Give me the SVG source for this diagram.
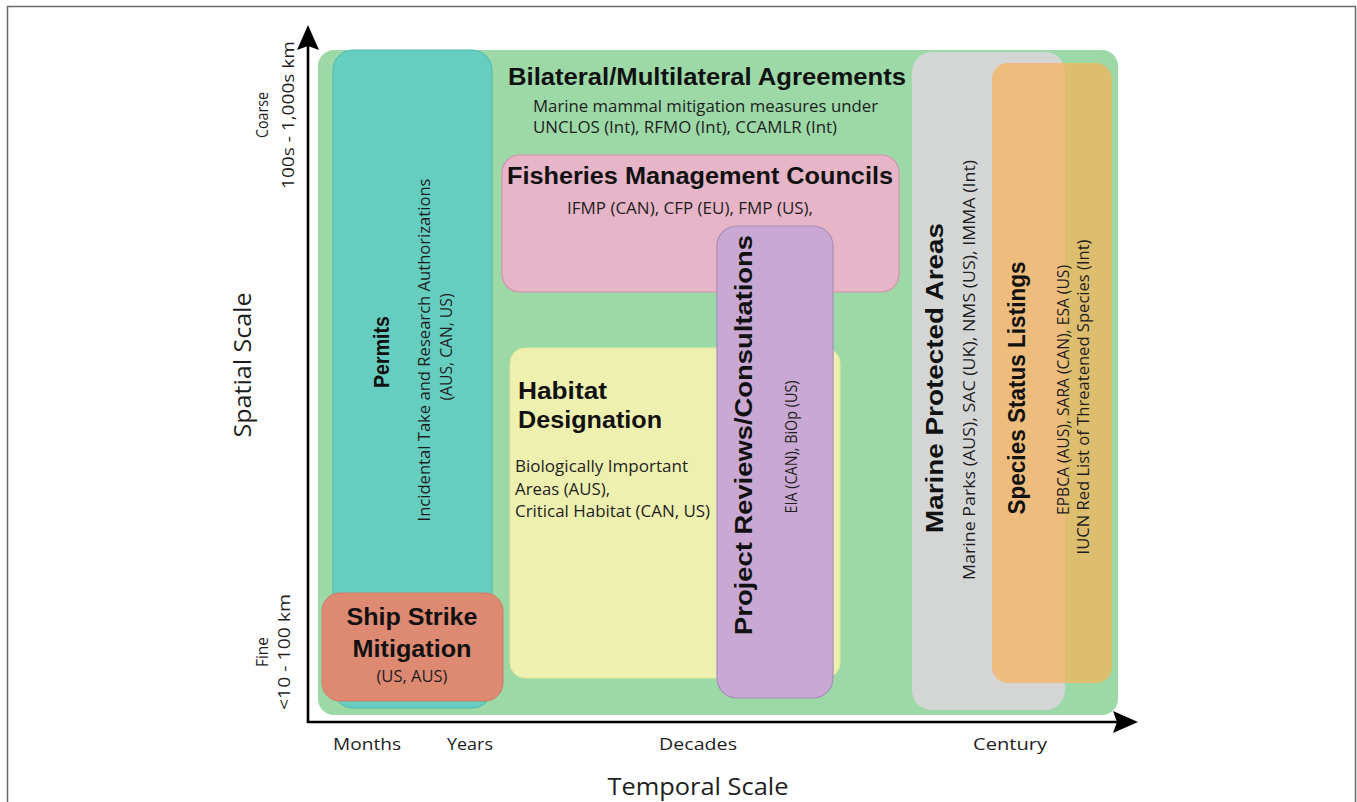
<svg xmlns="http://www.w3.org/2000/svg" width="1357" height="802" viewBox="0 0 1357 802">
<style>
.t{font-family:"Liberation Sans",Arial,sans-serif;font-weight:bold;fill:#111;}
.s{font-family:"Open Sans","Liberation Sans",sans-serif;fill:#1e1e1e;}
.ax{font-family:"Open Sans","Liberation Sans",sans-serif;fill:#1e1e1e;}
.axis{stroke:#000;stroke-width:2.6;fill:none;}
</style>
<defs>
<marker id="arr" markerUnits="userSpaceOnUse" markerWidth="26" markerHeight="24" viewBox="0 0 26 24" refX="10" refY="12" orient="auto">
<path d="M0,1 L25,12 L0,23 L4,12 Z" fill="#000"/>
</marker>
</defs>
<rect x="7.5" y="6.5" width="1348" height="800" fill="#fff" stroke="#6a6a6a" stroke-width="1.5"/>

<g id="bilateral">
<rect x="318" y="50" width="800" height="665" rx="16" fill="#9cd9a7"/>
<text class="t" x="508" y="85" font-size="23" textLength="398" lengthAdjust="spacingAndGlyphs">Bilateral/Multilateral Agreements</text>
<text class="s" x="533" y="112" font-size="17" textLength="345" lengthAdjust="spacingAndGlyphs">Marine mammal mitigation measures under</text>
<text class="s" x="533" y="133" font-size="17" textLength="304" lengthAdjust="spacingAndGlyphs">UNCLOS (Int), RFMO (Int), CCAMLR (Int)</text>
</g>

<g id="permits">
<rect x="333" y="50" width="159" height="658" rx="20" fill="#66cec1" stroke="#52b8ad" stroke-width="1"/>
<text class="t" transform="translate(389,352) rotate(-90)" text-anchor="middle" font-size="22" textLength="72" lengthAdjust="spacingAndGlyphs">Permits</text>
<text class="s" transform="translate(430,350) rotate(-90)" text-anchor="middle" font-size="16" textLength="343" lengthAdjust="spacingAndGlyphs">Incidental Take and Research Authorizations</text>
<text class="s" transform="translate(452,347) rotate(-90)" text-anchor="middle" font-size="16" textLength="107" lengthAdjust="spacingAndGlyphs">(AUS, CAN, US)</text>
</g>

<g id="ship-strike">
<rect x="322" y="593" width="181" height="108" rx="18" fill="#de8a73" stroke="#cf7a64" stroke-width="1"/>
<text class="t" x="412" y="625" text-anchor="middle" font-size="23" textLength="131" lengthAdjust="spacingAndGlyphs">Ship Strike</text>
<text class="t" x="412" y="657" text-anchor="middle" font-size="23" textLength="119" lengthAdjust="spacingAndGlyphs">Mitigation</text>
<text class="s" x="412" y="682" text-anchor="middle" font-size="16" textLength="71" lengthAdjust="spacingAndGlyphs">(US, AUS)</text>
</g>

<g id="fisheries">
<rect x="502" y="155" width="397" height="137" rx="18" fill="#e6b5c8" stroke="#d592ae" stroke-width="1.2"/>
<text class="t" x="507" y="184" font-size="23" textLength="386" lengthAdjust="spacingAndGlyphs">Fisheries Management Councils</text>
<text class="s" x="567" y="214" font-size="16" textLength="246" lengthAdjust="spacingAndGlyphs">IFMP (CAN), CFP (EU), FMP (US),</text>
</g>

<g id="habitat">
<rect x="510" y="348" width="330" height="330" rx="15" fill="#eef0b0" stroke="#e6e79a" stroke-width="1"/>
<text class="t" x="518" y="399" font-size="23" textLength="89" lengthAdjust="spacingAndGlyphs">Habitat</text>
<text class="t" x="518" y="428" font-size="23" textLength="144" lengthAdjust="spacingAndGlyphs">Designation</text>
<text class="s" x="515" y="472" font-size="16" textLength="173" lengthAdjust="spacingAndGlyphs">Biologically Important</text>
<text class="s" x="515" y="495" font-size="16" textLength="95" lengthAdjust="spacingAndGlyphs">Areas (AUS),</text>
<text class="s" x="515" y="517" font-size="16" textLength="195" lengthAdjust="spacingAndGlyphs">Critical Habitat (CAN, US)</text>
</g>

<g id="project-reviews">
<rect x="717" y="226" width="116" height="472" rx="20" fill="#c9a9d3" stroke="#a78db8" stroke-width="1.2"/>
<text class="t" transform="translate(752,435) rotate(-90)" text-anchor="middle" font-size="23" textLength="400" lengthAdjust="spacingAndGlyphs">Project Reviews/Consultations</text>
<text class="s" transform="translate(797,447) rotate(-90)" text-anchor="middle" font-size="16" textLength="133" lengthAdjust="spacingAndGlyphs">EIA (CAN), BiOp (US)</text>
</g>

<g id="marine-protected-areas">
<rect x="912" y="52" width="153" height="658" rx="20" fill="#d4d6d6"/>
<text class="t" transform="translate(943,378) rotate(-90)" text-anchor="middle" font-size="23" textLength="310" lengthAdjust="spacingAndGlyphs">Marine Protected Areas</text>
<text class="s" transform="translate(975,370) rotate(-90)" text-anchor="middle" font-size="16" textLength="420" lengthAdjust="spacingAndGlyphs">Marine Parks (AUS), SAC (UK), NMS (US), IMMA (Int)</text>
</g>

<g id="species-status-listings">
<rect x="992" y="63" width="120" height="620" rx="16" fill="#f9b155" fill-opacity="0.7"/>
<text class="t" transform="translate(1025,388) rotate(-90)" text-anchor="middle" font-size="23" textLength="253" lengthAdjust="spacingAndGlyphs">Species Status Listings</text>
<text class="s" transform="translate(1069,390) rotate(-90)" text-anchor="middle" font-size="16" textLength="250" lengthAdjust="spacingAndGlyphs">EPBCA (AUS), SARA (CAN), ESA (US)</text>
<text class="s" transform="translate(1089,397) rotate(-90)" text-anchor="middle" font-size="16" textLength="315" lengthAdjust="spacingAndGlyphs">IUCN Red List of Threatened Species (Int)</text>
</g>

<g id="connectors">
<line class="axis" x1="308" y1="723" x2="308" y2="40" marker-end="url(#arr)"/>
<line class="axis" x1="307" y1="722" x2="1123" y2="722" marker-end="url(#arr)"/>
</g>

<g id="axis-labels">
<text class="ax" transform="translate(251,365) rotate(-90)" text-anchor="middle" font-size="23" textLength="145" lengthAdjust="spacingAndGlyphs">Spatial Scale</text>
<text class="ax" transform="translate(268,115) rotate(-90)" text-anchor="middle" font-size="17" textLength="46" lengthAdjust="spacingAndGlyphs">Coarse</text>
<text class="ax" transform="translate(294,115) rotate(-90)" text-anchor="middle" font-size="17" textLength="148" lengthAdjust="spacingAndGlyphs">100s - 1,000s km</text>
<text class="ax" transform="translate(268,652) rotate(-90)" text-anchor="middle" font-size="17" textLength="30" lengthAdjust="spacingAndGlyphs">Fine</text>
<text class="ax" transform="translate(290,652) rotate(-90)" text-anchor="middle" font-size="17" textLength="116" lengthAdjust="spacingAndGlyphs">&lt;10 - 100 km</text>
<text class="ax" x="367" y="750" text-anchor="middle" font-size="17" textLength="68" lengthAdjust="spacingAndGlyphs">Months</text>
<text class="ax" x="470" y="750" text-anchor="middle" font-size="17" textLength="46" lengthAdjust="spacingAndGlyphs">Years</text>
<text class="ax" x="698" y="750" text-anchor="middle" font-size="17" textLength="78" lengthAdjust="spacingAndGlyphs">Decades</text>
<text class="ax" x="1010" y="750" text-anchor="middle" font-size="17" textLength="74" lengthAdjust="spacingAndGlyphs">Century</text>
<text class="ax" x="698" y="795" text-anchor="middle" font-size="23" textLength="181" lengthAdjust="spacingAndGlyphs">Temporal Scale</text>
</g>
</svg>
